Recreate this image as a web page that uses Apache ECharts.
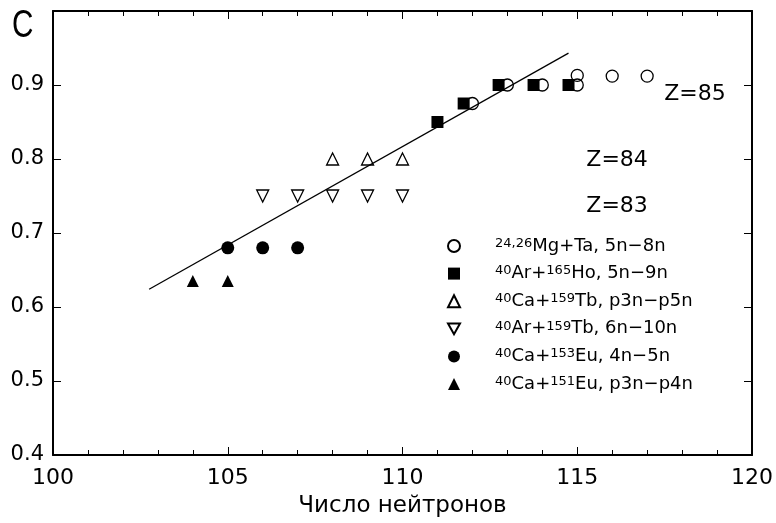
<!DOCTYPE html>
<html>
<head>
<meta charset="utf-8">
<script src="https://cdn.jsdelivr.net/npm/echarts@6/dist/echarts.min.js"></script>
<style>html,body{margin:0;padding:0;background:#fff}#c{width:776px;height:523px}</style>
</head>
<body>
<div id="c"></div>
<script>
// Data
var mgTaX = [112, 113, 114, 115, 115, 116, 117];
var mgTaY = [0.875, 0.9, 0.9, 0.9, 0.913, 0.912, 0.912];
var arHoX = [111, 111.75, 112.75, 113.75, 114.75];
var arHoY = [0.85, 0.875, 0.9, 0.9, 0.9];
var caTbX = [108, 109, 110];
var caTbY = [0.8, 0.8, 0.8];
var arTbX = [106, 107, 108, 109, 110];
var arTbY = [0.75, 0.75, 0.75, 0.75, 0.75];
var caEu153X = [105, 106, 107];
var caEu153Y = [0.68, 0.68, 0.68];
var caEu151X = [104, 105];
var caEu151Y = [0.635, 0.635];
var fitX = [102.75, 114.75];
var fitY = [0.624, 0.943];
var zLabels = ['Z=85', 'Z=84', 'Z=83'];
var zLabelX = [118.37, 116.14, 116.14];
var zLabelY = [0.888, 0.798, 0.736];
var seriesNames = ['MgTa', 'ArHo', 'CaTb', 'ArTb', 'CaEu153', 'CaEu151'];
var legendTexts = [
  '{sup|24,26}Mg+Ta, 5n−8n',
  '{sup|40}Ar+{sup|165}Ho, 5n−9n',
  '{sup|40}Ca+{sup|159}Tb, p3n−p5n',
  '{sup|40}Ar+{sup|159}Tb, 6n−10n',
  '{sup|40}Ca+{sup|153}Eu, 4n−5n',
  '{sup|40}Ca+{sup|151}Eu, p3n−p4n'
];
var xTitle = 'Число нейтронов';
var yTitle = 'C';

function zip(xs, ys) { return xs.map(function (x, i) { return [x, ys[i]]; }); }

var FONT = '"DejaVu Sans", "Liberation Sans", Arial, sans-serif';
var hollow = { color: 'rgba(0,0,0,0)', borderColor: '#000', borderWidth: 1.3, opacity: 1 };
var solid = { color: '#000', opacity: 1 };
var triDown = 'path://M0,0 L10,0 L5,9 Z';

var chart = echarts.init(document.getElementById('c'));
var axisCommon = {
  axisLine: { show: true, lineStyle: { color: '#000', width: 2 } },
  splitLine: { show: false }
};
chart.setOption({
  animation: false,
  backgroundColor: '#fff',
  graphic: [{
    type: 'text', left: 12, top: 8, scaleX: 0.78,
    style: { text: yTitle, font: 'normal 38px "Liberation Sans", Arial, sans-serif', fill: '#000' }
  }],
  grid: { left: 53, right: 24, top: 11, bottom: 61 },
  legend: {
    orient: 'vertical', left: 442, top: 232, itemWidth: 12, itemHeight: 12, itemGap: 9.6,
    data: seriesNames,
    formatter: function (n) { return legendTexts[seriesNames.indexOf(n)]; },
    textStyle: {
      fontFamily: FONT, fontSize: 18, color: '#000', padding: [0, 0, 0, 30],
      rich: { sup: { fontFamily: FONT, fontSize: 13, verticalAlign: 'top', color: '#000' } }
    }
  },
  xAxis: [
    Object.assign({
      type: 'value', min: 100, max: 120, interval: 5, position: 'bottom',
      name: xTitle, nameLocation: 'middle', nameGap: 40,
      nameTextStyle: { fontFamily: FONT, fontSize: 23, color: '#000' },
      axisTick: { inside: true, length: 8, lineStyle: { color: '#000', width: 1 } },
      minorTick: { show: true, splitNumber: 5, length: 5, lineStyle: { color: '#000', width: 1 } },
      axisLabel: { fontFamily: FONT, fontSize: 22, color: '#000', margin: 12 }
    }, axisCommon),
    Object.assign({
      type: 'value', min: 100, max: 120, interval: 5, position: 'top',
      axisTick: { inside: true, length: 8, lineStyle: { color: '#000', width: 1 } },
      minorTick: { show: true, splitNumber: 5, length: 5, lineStyle: { color: '#000', width: 1 } },
      axisLabel: { show: false }
    }, axisCommon)
  ],
  yAxis: [
    Object.assign({
      type: 'value', min: 0.4, max: 1.0, interval: 0.1, position: 'left',
      axisTick: { inside: true, length: 8, lineStyle: { color: '#000', width: 1 } },
      axisLabel: {
        fontFamily: FONT, fontSize: 21, color: '#000', margin: 9,
        formatter: function (v) { return v >= 0.99 ? '' : v.toFixed(1); }
      }
    }, axisCommon),
    Object.assign({
      type: 'value', min: 0.4, max: 1.0, interval: 0.1, position: 'right',
      axisTick: { inside: true, length: 8, lineStyle: { color: '#000', width: 1 } },
      axisLabel: { show: false }
    }, axisCommon)
  ],
  series: [
    { name: 'MgTa', type: 'scatter', symbol: 'circle', symbolSize: 12, itemStyle: hollow, data: zip(mgTaX, mgTaY), z: 3 },
    { name: 'ArHo', type: 'scatter', symbol: 'rect', symbolSize: 12, itemStyle: solid, data: zip(arHoX, arHoY), z: 2 },
    { name: 'CaTb', type: 'scatter', symbol: 'triangle', symbolSize: 12, itemStyle: hollow, data: zip(caTbX, caTbY) },
    { name: 'ArTb', type: 'scatter', symbol: triDown, symbolSize: 12, itemStyle: hollow, data: zip(arTbX, arTbY) },
    { name: 'CaEu153', type: 'scatter', symbol: 'circle', symbolSize: 13, itemStyle: solid, data: zip(caEu153X, caEu153Y) },
    { name: 'CaEu151', type: 'scatter', symbol: 'triangle', symbolSize: 12, itemStyle: solid, data: zip(caEu151X, caEu151Y) },
    { name: 'fit', type: 'line', symbol: 'none', lineStyle: { color: '#000', width: 1.3 }, data: zip(fitX, fitY), z: 1 },
    {
      name: 'zlabels', type: 'scatter', symbolSize: 0, silent: true,
      itemStyle: { opacity: 1, color: '#000' },
      data: zLabels.map(function (t, i) { return { value: [zLabelX[i], zLabelY[i]], name: t }; }),
      label: { show: true, position: 'inside', formatter: '{b}', fontFamily: FONT, fontSize: 22, color: '#000', opacity: 1 }
    }
  ]
});
</script>
</body>
</html>
